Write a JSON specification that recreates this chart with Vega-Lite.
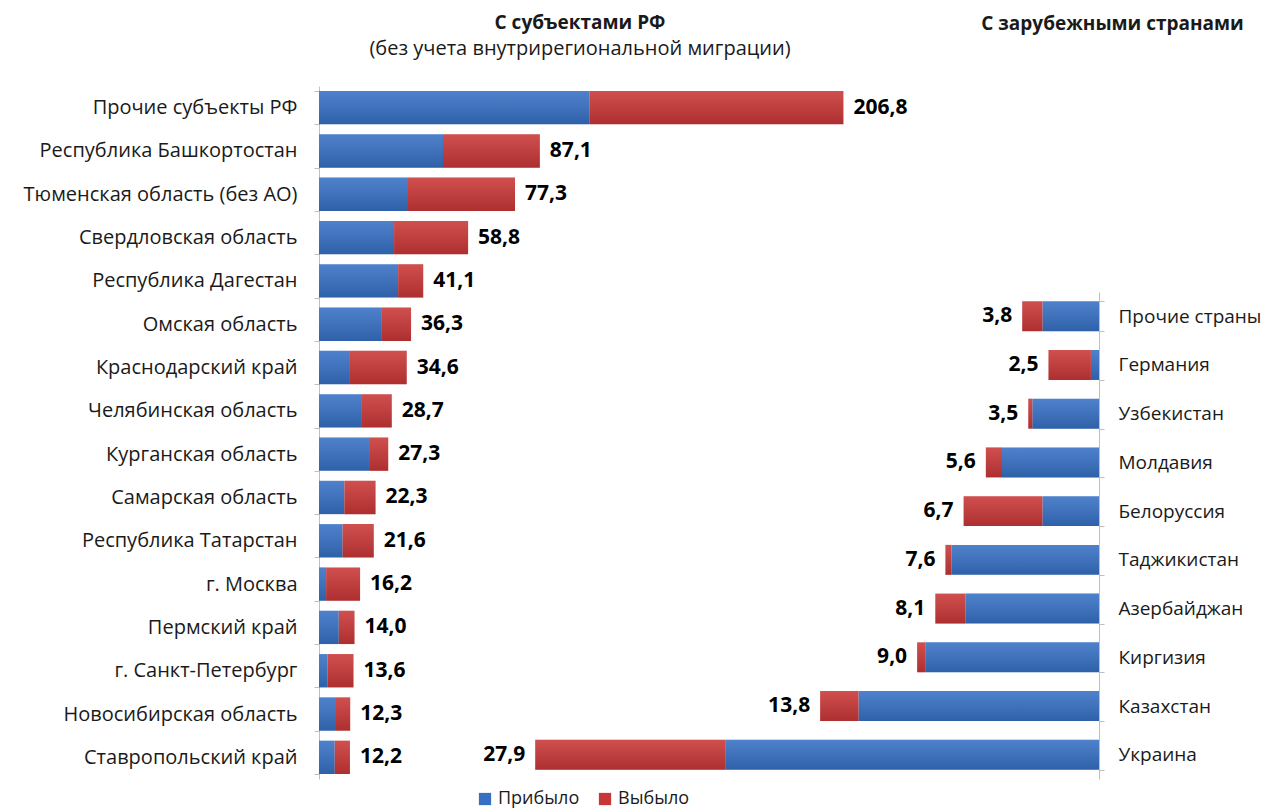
{
  "$schema": "https://vega.github.io/schema/vega-lite/v6.json",
  "autosize": {"type": "none"},
  "padding": {"left": 319, "top": 86, "right": 166, "bottom": 32},
  "width": 780,
  "height": 693,
  "background": "white",
  "datasets": {
    "regions": [
      {"region": "Прочие субъекты РФ", "Прибыло": 106.6, "Выбыло": 100.2, "total": 206.8, "label": "206,8"},
      {"region": "Республика Башкортостан", "Прибыло": 48.9, "Выбыло": 38.2, "total": 87.1, "label": "87,1"},
      {"region": "Тюменская область (без АО)", "Прибыло": 35.1, "Выбыло": 42.2, "total": 77.3, "label": "77,3"},
      {"region": "Свердловская область", "Прибыло": 29.6, "Выбыло": 29.2, "total": 58.8, "label": "58,8"},
      {"region": "Республика Дагестан", "Прибыло": 31.2, "Выбыло": 9.9, "total": 41.1, "label": "41,1"},
      {"region": "Омская область", "Прибыло": 24.5, "Выбыло": 11.8, "total": 36.3, "label": "36,3"},
      {"region": "Краснодарский край", "Прибыло": 12.2, "Выбыло": 22.4, "total": 34.6, "label": "34,6"},
      {"region": "Челябинская область", "Прибыло": 16.6, "Выбыло": 12.1, "total": 28.7, "label": "28,7"},
      {"region": "Курганская область", "Прибыло": 20.1, "Выбыло": 7.2, "total": 27.3, "label": "27,3"},
      {"region": "Самарская область", "Прибыло": 10.0, "Выбыло": 12.3, "total": 22.3, "label": "22,3"},
      {"region": "Республика Татарстан", "Прибыло": 9.3, "Выбыло": 12.3, "total": 21.6, "label": "21,6"},
      {"region": "г. Москва", "Прибыло": 2.8, "Выбыло": 13.4, "total": 16.2, "label": "16,2"},
      {"region": "Пермский край", "Прибыло": 7.8, "Выбыло": 6.2, "total": 14.0, "label": "14,0"},
      {"region": "г. Санкт-Петербург", "Прибыло": 3.3, "Выбыло": 10.3, "total": 13.6, "label": "13,6"},
      {"region": "Новосибирская область", "Прибыло": 6.7, "Выбыло": 5.6, "total": 12.3, "label": "12,3"},
      {"region": "Ставропольский край", "Прибыло": 6.2, "Выбыло": 6.0, "total": 12.2, "label": "12,2"}
    ],
    "countries": [
      {"country": "Прочие страны", "Прибыло": 2.8, "Выбыло": 1.0, "total": 3.8, "label": "3,8"},
      {"country": "Германия", "Прибыло": 0.4, "Выбыло": 2.1, "total": 2.5, "label": "2,5"},
      {"country": "Узбекистан", "Прибыло": 3.3, "Выбыло": 0.2, "total": 3.5, "label": "3,5"},
      {"country": "Молдавия", "Прибыло": 4.8, "Выбыло": 0.8, "total": 5.6, "label": "5,6"},
      {"country": "Белоруссия", "Прибыло": 2.8, "Выбыло": 3.9, "total": 6.7, "label": "6,7"},
      {"country": "Таджикистан", "Прибыло": 7.3, "Выбыло": 0.3, "total": 7.6, "label": "7,6"},
      {"country": "Азербайджан", "Прибыло": 6.6, "Выбыло": 1.5, "total": 8.1, "label": "8,1"},
      {"country": "Киргизия", "Прибыло": 8.6, "Выбыло": 0.4, "total": 9.0, "label": "9,0"},
      {"country": "Казахстан", "Прибыло": 11.9, "Выбыло": 1.9, "total": 13.8, "label": "13,8"},
      {"country": "Украина", "Прибыло": 18.5, "Выбыло": 9.4, "total": 27.9, "label": "27,9"}
    ]
  },
  "title": {
    "text": "С субъектами РФ",
    "subtitle": "(без учета внутрирегиональной миграции)",
    "anchor": "middle",
    "frame": "group",
    "dx": -129,
    "dy": 71,
    "offset": 26,
    "font": "Open Sans",
    "fontSize": 19,
    "fontWeight": "bold",
    "color": "#1a1a1a",
    "subtitleFont": "Open Sans",
    "subtitleFontSize": 20,
    "subtitleColor": "#1a1a1a",
    "subtitlePadding": 6
  },
  "layer": [
    {
      "data": {"name": "regions"},
      "encoding": {
        "y": {
          "field": "region",
          "type": "nominal",
          "sort": null,
          "scale": {"paddingInner": 0.23, "paddingOuter": 0.115},
          "axis": {
            "title": null,
            "orient": "left",
            "tickBand": "extent",
            "tickSize": 5,
            "labelPadding": 17,
            "labelLimit": 400,
            "labelFontSize": 20
          }
        }
      },
      "layer": [
        {
          "mark": {"type": "bar"},
          "transform": [{"fold": ["Прибыло", "Выбыло"], "as": ["type", "value"]}],
          "encoding": {
            "x": {"field": "value", "type": "quantitative", "stack": "zero", "scale": {"domain": [0, 307.6], "nice": false, "zero": true}, "axis": null},
            "color": {
              "field": "type",
              "type": "nominal",
              "scale": {"domain": ["Прибыло", "Выбыло"], "range": ["#3670c4", "#c93636"]},
              "legend": {
                "title": null,
                "orient": "none",
                "direction": "horizontal",
                "legendX": 157,
                "legendY": 704,
                "symbolType": "square",
                "symbolSize": 150,
                "symbolStrokeWidth": 0,
                "labelFontSize": 18,
                "labelFont": "Open Sans",
                "labelColor": "#1a1a1a",
                "columnPadding": 16,
                "labelOffset": 4
              }
            },
            "order": {"field": "type", "sort": "descending"}
          }
        },
        {
          "mark": {
            "type": "bar",
            "fill": {
              "gradient": "linear", "x1": 0, "y1": 0, "x2": 0, "y2": 1,
              "stops": [
                {"offset": 0, "color": "rgba(255,255,255,0.12)"},
                {"offset": 1, "color": "rgba(0,0,0,0.14)"}
              ]
            }
          },
          "encoding": {
            "x": {"field": "total", "type": "quantitative"}
          }
        },
        {
          "mark": {"type": "text", "align": "left", "baseline": "middle", "dx": 10, "font": "Open Sans", "fontSize": 21, "fontWeight": "bold", "color": "#000000"},
          "encoding": {
            "x": {"field": "total", "type": "quantitative"},
            "text": {"field": "label"}
          }
        }
      ]
    },
    {
      "data": {"name": "countries"},
      "encoding": {
        "y": {
          "field": "country",
          "type": "nominal",
          "sort": null,
          "scale": {"range": [206, 693], "paddingInner": 0.385, "paddingOuter": 0.19},
          "axis": {
            "orient": "right",
            "title": "С зарубежными странами",
            "titleAngle": 0,
            "titleX": 13,
            "titleY": -63,
            "titleAlign": "center",
            "titleBaseline": "middle",
            "titleFont": "Open Sans",
            "titleFontSize": 19,
            "titleFontWeight": "bold",
            "titleColor": "#1a1a1a",
            "tickBand": "extent",
            "tickSize": 5,
            "labelPadding": 14,
            "labelLimit": 400,
            "labelFontSize": 19
          }
        }
      },
      "layer": [
        {
          "mark": {"type": "bar"},
          "transform": [{"fold": ["Прибыло", "Выбыло"], "as": ["type", "value"]}],
          "encoding": {
            "x": {"field": "value", "type": "quantitative", "stack": "zero", "scale": {"domain": [0, 38.6], "nice": false, "reverse": true}, "axis": null},
            "color": {"field": "type", "type": "nominal"},
            "order": {"field": "type", "sort": "descending"}
          }
        },
        {
          "mark": {
            "type": "bar",
            "fill": {
              "gradient": "linear", "x1": 0, "y1": 0, "x2": 0, "y2": 1,
              "stops": [
                {"offset": 0, "color": "rgba(255,255,255,0.12)"},
                {"offset": 1, "color": "rgba(0,0,0,0.14)"}
              ]
            }
          },
          "encoding": {
            "x": {"field": "total", "type": "quantitative"}
          }
        },
        {
          "mark": {"type": "text", "align": "right", "baseline": "middle", "dx": -10, "font": "Open Sans", "fontSize": 21, "fontWeight": "bold", "color": "#000000"},
          "encoding": {
            "x": {"field": "total", "type": "quantitative"},
            "text": {"field": "label"}
          }
        }
      ]
    }
  ],
  "resolve": {
    "scale": {"x": "independent", "y": "independent"},
    "axis": {"x": "independent", "y": "independent"}
  },
  "config": {
    "view": {"stroke": null},
    "axis": {
      "domainColor": "#bfbfbf",
      "tickColor": "#bfbfbf",
      "labelFont": "Open Sans",
      "labelFontSize": 18,
      "labelColor": "#1a1a1a",
      "grid": false
    }
  }
}
